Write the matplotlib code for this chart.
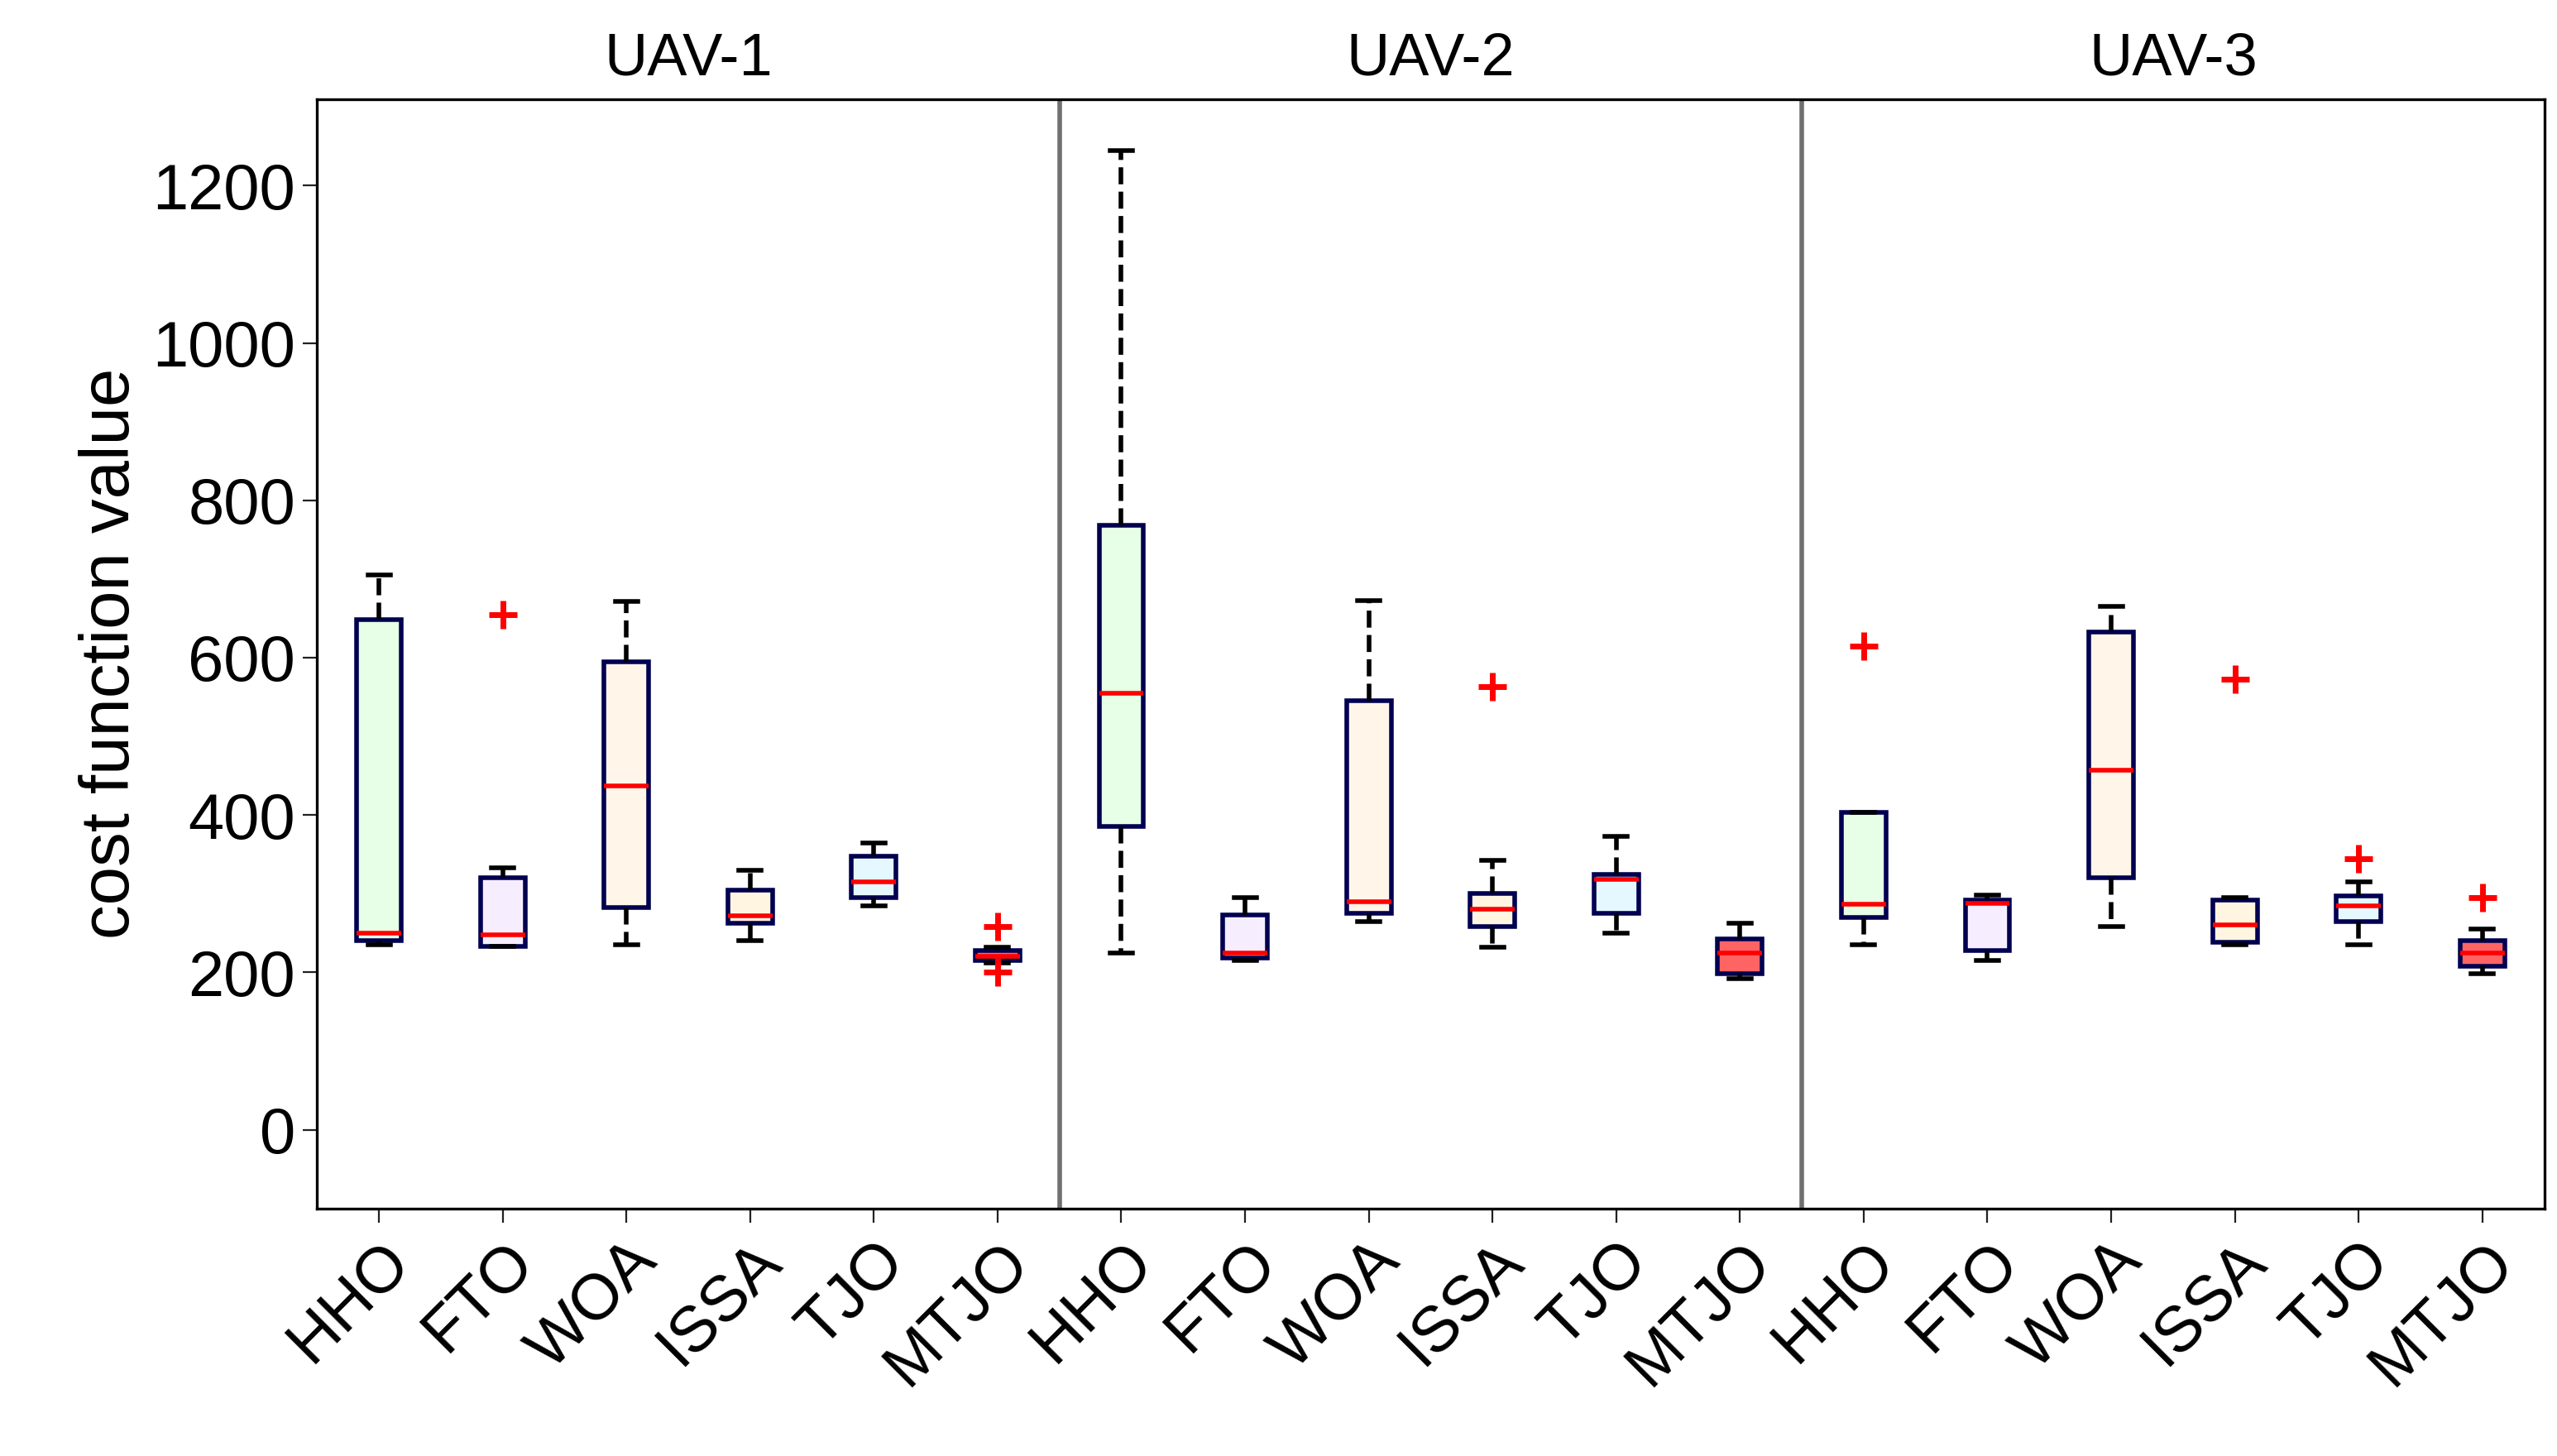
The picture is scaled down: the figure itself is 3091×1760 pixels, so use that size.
import matplotlib.pyplot as plt

plt.rcParams['font.family'] = ['Liberation Sans', 'DejaVu Sans']

algos = ['HHO', 'FTO', 'WOA', 'ISSA', 'TJO', 'MTJO']
uavs = ['UAV-1', 'UAV-2', 'UAV-3']
colors = ['#e6ffe6', '#f6eeff', '#fff5e8', '#fff5e0', '#e6f8ff', '#ff6464']

# lo, q1, med, q3, hi per box, plus outliers
lows = [235, 233, 235, 240, 285, 212,
        225, 215, 265, 232, 250, 192,
        235, 215, 258, 235, 235, 198]
q1s = [240, 233, 283, 263, 295, 215,
       385, 218, 275, 258, 275, 198,
       270, 228, 320, 238, 265, 208]
meds = [250, 248, 437, 272, 315, 220,
        555, 225, 290, 280, 318, 225,
        287, 288, 457, 260, 285, 225]
q3s = [648, 320, 595, 305, 348, 228,
       768, 273, 545, 300, 325, 243,
       403, 292, 633, 292, 297, 240]
highs = [705, 333, 672, 330, 365, 232,
         1245, 295, 673, 342, 373, 262,
         403, 298, 665, 295, 315, 255]
fliers = [[], [655], [], [], [], [258, 200],
          [], [], [], [563], [], [],
          [615], [], [], [573], [345], [295]]

stats = []
for i in range(18):
    stats.append(dict(whislo=lows[i], q1=q1s[i], med=meds[i], q3=q3s[i],
                      whishi=highs[i], fliers=fliers[i]))

fig = plt.figure(figsize=(15.455, 8.8), dpi=200)
ax = fig.add_axes([0.124, 0.17, 0.871, 0.762])
pos = list(range(1, 19))
bp = ax.bxp(stats, positions=pos, widths=0.36, patch_artist=True,
            boxprops=dict(edgecolor='#000050', linewidth=2),
            whiskerprops=dict(color='black', linestyle='--', linewidth=2),
            capprops=dict(color='black', linewidth=2),
            medianprops=dict(color='red', linewidth=2),
            flierprops=dict(marker='+', markeredgecolor='red', markersize=12,
                            markeredgewidth=2.5))
for i, b in enumerate(bp['boxes']):
    b.set_facecolor(colors[i % 6])

for xv in [6.5, 12.5]:
    ax.axvline(xv, color='#707070', linewidth=2)
for k, name in enumerate(uavs):
    ax.text(3.5 + 6 * k, 1325, name, ha='center', va='bottom', fontsize=26)

ax.set_xlim(0.5, 18.5)
ax.set_ylim(-100, 1310)
ax.set_yticks([0, 200, 400, 600, 800, 1000, 1200])
ax.set_xticks(pos)
ax.set_xticklabels(algos * 3, rotation=45, ha='right', rotation_mode='anchor')
ax.tick_params(labelsize=28, direction='out', length=6, color='#222222')
ax.set_ylabel('cost function value', fontsize=30)
for s in ax.spines.values():
    s.set_linewidth(1.2)
fig.savefig('out.png')
